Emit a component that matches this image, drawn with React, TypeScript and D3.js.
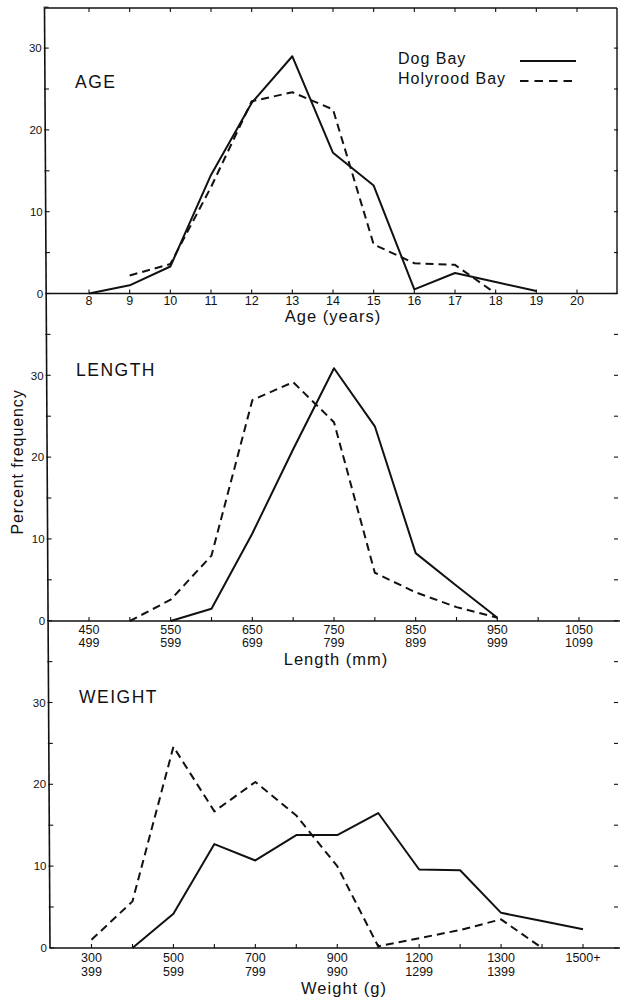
import React from "react";
import * as d3 from "d3";

// ---------- DATA ----------
const ageTicks = [8, 9, 10, 11, 12, 13, 14, 15, 16, 17, 18, 19, 20];
const ageDogX = [8, 9, 10, 11, 12, 13, 14, 15, 16, 17, 18, 19];
const ageDogY = [0, 1.0, 3.3, 14.5, 23.3, 29.0, 17.2, 13.2, 0.5, 2.5, 1.4, 0.3];
const ageHolyX = [9, 10, 11, 12, 13, 14, 15, 16, 17, 18];
const ageHolyY = [2.2, 3.6, 13.0, 23.5, 24.6, 22.5, 6.0, 3.7, 3.5, 0];

const lengthTicks = [450, 500, 550, 600, 650, 700, 750, 800, 850, 900, 950, 1000, 1050];
const lengthLabelTop = ["450", "550", "650", "750", "850", "950", "1050"];
const lengthLabelBottom = ["499", "599", "699", "799", "899", "999", "1099"];
const lengthLabelAt = [450, 550, 650, 750, 850, 950, 1050];
const lengthDogX = [550, 600, 650, 700, 750, 800, 850, 900, 950];
const lengthDogY = [0, 1.5, 10.7, 21.0, 30.9, 23.8, 8.3, 4.3, 0.4];
const lengthHolyX = [500, 550, 600, 650, 700, 750, 800, 850, 900, 950];
const lengthHolyY = [0, 2.6, 8.0, 27.0, 29.2, 24.3, 5.9, 3.5, 1.7, 0.4];

const weightCats = ["300", "400", "500", "600", "700", "800", "900", "1000", "1100", "1200", "1300", "1400", "1500+"];
const weightLabelAt = ["300", "500", "700", "900", "1100", "1300", "1500+"];
const weightLabelTop = ["300", "500", "700", "900", "1200", "1300", "1500+"];
const weightLabelBottom = ["399", "599", "799", "990", "1299", "1399", ""];
const weightDogX = ["400", "500", "600", "700", "800", "900", "1000", "1100", "1200", "1300", "1400", "1500+"];
const weightDogY = [0, 4.2, 12.7, 10.7, 13.8, 13.8, 16.5, 9.6, 9.5, 4.3, 3.3, 2.3];
const weightHolyX = ["300", "400", "500", "600", "700", "800", "900", "1000", "1100", "1200", "1300", "1400"];
const weightHolyY = [1.0, 5.7, 24.6, 16.7, 20.3, 16.2, 10.0, 0.2, 1.2, 2.2, 3.5, 0];

const yTickVals = [0, 10, 20, 30];
const seriesNames = ["Dog Bay", "Holyrood Bay"];

// ---------- LAYOUT ----------
const W = 620;
const H = 1000;
const TOP = 8;
const RIGHT = 617;
const bases = [293.5, 621, 948];
const unitPx = 8.18;
const FONT = "'Liberation Sans', Arial, Helvetica, sans-serif";
const DASH = "8,5";

const axisX = (y: number) => 44.5 + ((y - TOP) * 5.5) / 940;

const makeY = (base: number) => d3.scaleLinear().domain([0, 30]).range([base, base - 30 * unitPx]);

const ageX = d3.scaleLinear().domain([8, 20]).range([89, 577]);
const lenX = d3.scaleLinear().domain([450, 1050]).range([89, 579]);
const wX = d3.scalePoint<string>().domain(weightCats).range([91.5, 583]);

const yAge = makeY(bases[0]);
const yLen = makeY(bases[1]);
const yW = makeY(bases[2]);

function pathOf<T>(xs: T[], ys: number[], fx: (v: T) => number, fy: (v: number) => number) {
  const pts: [number, number][] = xs.map((x, i) => [fx(x), fy(ys[i])]);
  return d3.line()(pts) || "";
}

export default function App() {
  const lineStyle = { fill: "none", stroke: "#111", strokeWidth: 2, strokeLinejoin: "round" as const };

  const leftTicks: number[] = [];
  for (let v = 35; v >= -80; v -= 5) {
    const y = yAge(v);
    if (y >= TOP - 1 && y <= bases[2] + 0.5) leftTicks.push(y);
  }
  const rightTicks: number[] = [];
  for (let v = 35; v >= -80; v -= 5) {
    const y = yAge(v);
    if (y >= TOP + 20 && y <= H - 5) rightTicks.push(y);
  }

  const yLabels = (scale: d3.ScaleLinear<number, number>, key: string) =>
    yTickVals.map((v) => (
      <text
        key={key + v}
        x={axisX(scale(v)) - 3}
        y={scale(v) + 4}
        textAnchor="end"
        fontSize={11.5}
        fontFamily={FONT}
        fill="#111"
      >
        {v}
      </text>
    ));

  return (
    <svg
      width={W}
      height={H}
      style={{ position: "absolute", left: 0, top: 0, background: "#fff" }}
      viewBox={`0 0 ${W} ${H}`}
    >
      <rect x={0} y={0} width={W} height={H} fill="#fff" />

      {/* frame / axes */}
      <line x1={axisX(TOP)} y1={TOP} x2={axisX(bases[2])} y2={bases[2]} stroke="#111" strokeWidth={1.6} />
      <line x1={axisX(TOP)} y1={TOP} x2={RIGHT} y2={TOP} stroke="#111" strokeWidth={1.4} />
      <line x1={RIGHT} y1={TOP} x2={RIGHT} y2={bases[0]} stroke="#111" strokeWidth={1.4} />
      {bases.map((b, i) => (
        <line key={"b" + i} x1={axisX(b)} y1={b} x2={i === 0 ? RIGHT : W} y2={b} stroke="#111" strokeWidth={1.6} />
      ))}

      {leftTicks.map((y, i) => (
        <line key={"lt" + i} x1={axisX(y) - 1} y1={y} x2={axisX(y) + 4} y2={y} stroke="#111" strokeWidth={1.1} />
      ))}
      {rightTicks.map((y, i) => (
        <line key={"rt" + i} x1={RIGHT - 3} y1={y} x2={RIGHT + 1} y2={y} stroke="#111" strokeWidth={1.1} />
      ))}

      {yLabels(yAge, "a")}
      {yLabels(yLen, "l")}
      {yLabels(yW, "w")}

      {/* x ticks */}
      {ageTicks.map((t) => (
        <g key={"at" + t}>
          <line x1={ageX(t)} y1={bases[0]} x2={ageX(t)} y2={bases[0] - 4} stroke="#111" strokeWidth={1.1} />
          <line x1={ageX(t)} y1={TOP} x2={ageX(t)} y2={TOP + 4} stroke="#111" strokeWidth={1.1} />
          <text x={ageX(t)} y={bases[0] + 11.5} textAnchor="middle" fontSize={12.5} fontFamily={FONT} fill="#111">
            {t}
          </text>
        </g>
      ))}
      {lengthTicks.map((t) => (
        <line key={"lt" + t} x1={lenX(t)} y1={bases[1]} x2={lenX(t)} y2={bases[1] - 4} stroke="#111" strokeWidth={1.1} />
      ))}
      {lengthLabelAt.map((t, i) => (
        <g key={"ll" + t}>
          <text x={lenX(t)} y={bases[1] + 12.5} textAnchor="middle" fontSize={12.5} fontFamily={FONT} fill="#111">
            {lengthLabelTop[i]}
          </text>
          <text x={lenX(t)} y={bases[1] + 26} textAnchor="middle" fontSize={12.5} fontFamily={FONT} fill="#111">
            {lengthLabelBottom[i]}
          </text>
        </g>
      ))}
      {weightCats.map((c) => (
        <line key={"wt" + c} x1={wX(c)!} y1={bases[2]} x2={wX(c)!} y2={bases[2] - 4} stroke="#111" strokeWidth={1.1} />
      ))}
      {weightLabelAt.map((c, i) => (
        <g key={"wl" + c}>
          <text x={wX(c)!} y={bases[2] + 14} textAnchor="middle" fontSize={12.5} fontFamily={FONT} fill="#111">
            {weightLabelTop[i]}
          </text>
          <text x={wX(c)!} y={bases[2] + 27.5} textAnchor="middle" fontSize={12.5} fontFamily={FONT} fill="#111">
            {weightLabelBottom[i]}
          </text>
        </g>
      ))}

      {/* axis titles */}
      <text x={333} y={322} textAnchor="middle" fontSize={16.5} letterSpacing={1} fontFamily={FONT} fill="#111">
        Age (years)
      </text>
      <text x={336} y={665} textAnchor="middle" fontSize={16.5} letterSpacing={1} fontFamily={FONT} fill="#111">
        Length (mm)
      </text>
      <text x={344} y={994} textAnchor="middle" fontSize={16.5} letterSpacing={1} fontFamily={FONT} fill="#111">
        Weight (g)
      </text>
      <text
        transform="translate(23,462) rotate(-90)"
        textAnchor="middle"
        fontSize={16}
        letterSpacing={0.9}
        fontFamily={FONT}
        fill="#111"
      >
        Percent frequency
      </text>

      {/* panel titles */}
      <text x={75} y={88} fontSize={17.5} letterSpacing={1.5} fontFamily={FONT} fill="#111">AGE</text>
      <text x={76} y={376} fontSize={17.5} letterSpacing={1.5} fontFamily={FONT} fill="#111">LENGTH</text>
      <text x={79} y={703} fontSize={17.5} letterSpacing={1.5} fontFamily={FONT} fill="#111">WEIGHT</text>

      {/* legend */}
      <text x={398} y={64} fontSize={16} letterSpacing={1} fontFamily={FONT} fill="#111">{seriesNames[0]}</text>
      <text x={398} y={84} fontSize={16} letterSpacing={1} fontFamily={FONT} fill="#111">{seriesNames[1]}</text>
      <line x1={520} y1={61} x2={576} y2={61} {...lineStyle} />
      <line x1={520} y1={81} x2={576} y2={81} {...lineStyle} strokeDasharray="8.5,6" />

      {/* series */}
      <path d={pathOf(ageDogX, ageDogY, ageX, yAge)} {...lineStyle} />
      <path d={pathOf(ageHolyX, ageHolyY, ageX, yAge)} {...lineStyle} strokeDasharray={DASH} />
      <path d={pathOf(lengthDogX, lengthDogY, lenX, yLen)} {...lineStyle} />
      <path d={pathOf(lengthHolyX, lengthHolyY, lenX, yLen)} {...lineStyle} strokeDasharray={DASH} />
      <path d={pathOf(weightDogX, weightDogY, (c: string) => wX(c)!, yW)} {...lineStyle} />
      <path d={pathOf(weightHolyX, weightHolyY, (c: string) => wX(c)!, yW)} {...lineStyle} strokeDasharray={DASH} />
    </svg>
  );
}
